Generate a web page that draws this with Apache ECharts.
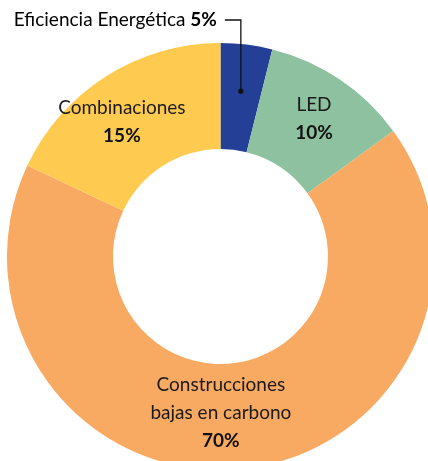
<!DOCTYPE html>
<html>
<head>
<meta charset="utf-8">
<script src="https://cdn.jsdelivr.net/npm/echarts@6/dist/echarts.min.js"></script>
<style>
  html, body { margin: 0; padding: 0; background: #fff; }
  #chart { width: 428px; height: 461px; }
</style>
</head>
<body>
<div id="chart"></div>
<script>
// 类别与数值（扇区角度按图中量出的比例，标签用图上印的百分比）
const names = ['Eficiencia Energética', 'LED', 'Construcciones\nbajas en carbono', 'Combinaciones'];
const arcShares = [3.9, 11.1, 67, 18];
const printedPct = ['5%', '10%', '70%', '15%'];
const colors = ['#233f96', '#8ec1a0', '#f8a962', '#fecb50'];

// 标签微调
const nudges = [[0, 0], [2, -2], [-15, -6], [-11, 3]];

const cx = 220.5, cy = 256.5, rIn = 107.5, rOut = 213.5;
const FONT = 'Lato, "Open Sans", sans-serif';
const FS = 19;

const chart = echarts.init(document.getElementById('chart'));

// 蓝色扇区的注释点位置，从数据计算
const total = arcShares.reduce((a, b) => a + b, 0);
const midDeg = (arcShares[0] / total * 360) / 2;
const rad = midDeg * Math.PI / 180;
const dotR = rOut * 0.78;
const dotX = cx + dotR * Math.sin(rad);
const dotY = cy - dotR * Math.cos(rad);
const lineY = 20;

chart.setOption({
    animation: false,
    series: [{
        type: 'pie',
        center: [cx, cy],
        radius: [rIn, rOut],
        startAngle: 90,
        clockwise: true,
        silent: true,
        label: {
            show: true,
            position: 'inside',
            fontFamily: FONT,
            formatter: p => {
                const lines = p.name.split('\n').map(s => '{n|' + s + '}');
                return lines.join('\n') + '\n{p|' + printedPct[p.dataIndex] + '}';
            },
            rich: {
                n: { fontFamily: FONT, fontSize: FS, color: '#1a1a1a', lineHeight: 28 },
                p: { fontFamily: FONT, fontSize: FS, fontWeight: 'bold', color: '#111', lineHeight: 28 }
            }
        },
        labelLine: { show: false },
        labelLayout: p => ({ dx: nudges[p.dataIndex][0], dy: nudges[p.dataIndex][1] }),
        data: names.map((n, i) => ({
            name: n,
            value: arcShares[i],
            itemStyle: { color: colors[i] },
            label: { show: i !== 0 }
        }))
    }],
    graphic: [
        {
            type: 'polyline',
            shape: { points: [[dotX, dotY], [dotX, lineY], [dotX - 16, lineY]] },
            style: { stroke: '#111', lineWidth: 1.3, fill: null },
            z: 10
        },
        {
            type: 'circle',
            shape: { cx: dotX, cy: dotY, r: 2.6 },
            style: { fill: '#111' },
            z: 10
        },
        {
            type: 'text',
            x: dotX - 24,
            y: lineY,
            style: {
                text: '{n|' + names[0] + ' }{p|' + printedPct[0] + '}',
                align: 'right',
                verticalAlign: 'middle',
                rich: {
                    n: { fontFamily: FONT, fontSize: FS, color: '#1a1a1a' },
                    p: { fontFamily: FONT, fontSize: FS, fontWeight: 'bold', color: '#111' }
                }
            },
            z: 10
        }
    ]
});
</script>
</body>
</html>
